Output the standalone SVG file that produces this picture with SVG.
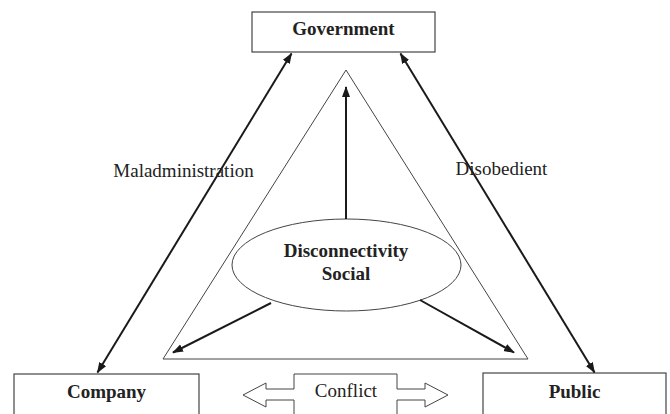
<svg xmlns="http://www.w3.org/2000/svg" width="670" height="414" viewBox="0 0 670 414">
  <defs>
    <marker id="ah" markerUnits="userSpaceOnUse" markerWidth="12" markerHeight="9" refX="10" refY="4" orient="auto-start-reverse">
      <path d="M0,0 L11,4 L0,8 z" fill="#1a1a1a"/>
    </marker>
    <style>
      .box { fill: #fff; stroke: #444; stroke-width: 1.2; }
      .thin { fill: none; stroke: #444; stroke-width: 1; }
      .conn { fill: none; stroke: #1a1a1a; stroke-width: 2; }
      .lbl { font-family: "Liberation Serif", "Times New Roman", serif; font-size: 19px; fill: #222; }
      .bold { font-weight: bold; }
    </style>
  </defs>
  <rect width="670" height="414" fill="#fff"/>

  <g id="triangle">
    <polygon class="thin" points="346,70 163,359 528,359"/>
  </g>

  <g id="government">
    <rect class="box" x="252" y="12" width="183" height="40"/>
    <text class="lbl bold" x="343.5" y="35" text-anchor="middle">Government</text>
  </g>

  <g id="company">
    <rect class="box" x="14" y="374" width="185" height="50"/>
    <text class="lbl bold" x="106.5" y="398" text-anchor="middle">Company</text>
  </g>

  <g id="public">
    <rect class="box" x="483" y="373" width="183" height="50"/>
    <text class="lbl bold" x="574.5" y="398" text-anchor="middle">Public</text>
  </g>

  <g id="social">
    <ellipse class="thin" cx="346.5" cy="265" rx="114.5" ry="46"/>
    <text class="lbl bold" x="346" y="257" text-anchor="middle">Disconnectivity</text>
    <text class="lbl bold" x="346" y="280" text-anchor="middle">Social</text>
  </g>

  <g id="conflict">
    <path class="thin" d="M294,420 L294,400 L266,400 L266,407 L243,395 L266,383 L266,389 L294,389 L294,374 L397,374 L397,389 L425,389 L425,383 L448,395 L425,407 L425,400 L397,400 L397,420"/>
    <text class="lbl" x="346" y="397" text-anchor="middle">Conflict</text>
  </g>

  <g id="connectors">
    <line class="conn" x1="291.5" y1="53.5" x2="97.5" y2="372.5" marker-start="url(#ah)" marker-end="url(#ah)"/>
    <line class="conn" x1="400.5" y1="53.5" x2="594.5" y2="372.5" marker-start="url(#ah)" marker-end="url(#ah)"/>
    <line class="conn" x1="346" y1="219" x2="346" y2="87" marker-end="url(#ah)"/>
    <line class="conn" x1="271" y1="303" x2="173" y2="352.5" marker-end="url(#ah)"/>
    <line class="conn" x1="420" y1="300" x2="514" y2="352.5" marker-end="url(#ah)"/>
  </g>

  <g id="labels">
    <text class="lbl" x="183.5" y="177" text-anchor="middle">Maladministration</text>
    <text class="lbl" x="501.5" y="175" text-anchor="middle">Disobedient</text>
  </g>
</svg>
